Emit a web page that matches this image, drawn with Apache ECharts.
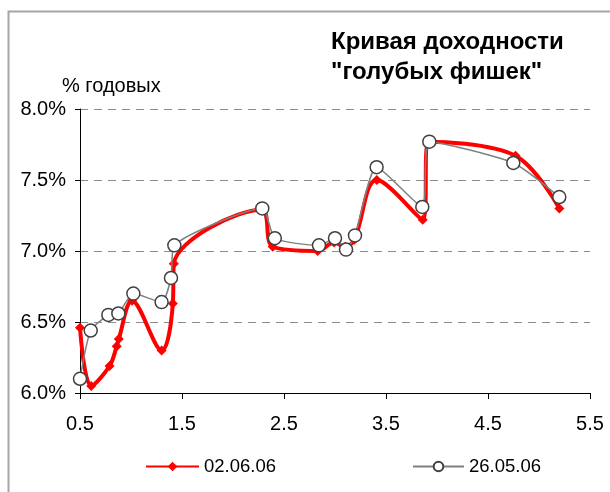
<!DOCTYPE html>
<html>
<head>
<meta charset="utf-8">
<script src="https://cdn.jsdelivr.net/npm/echarts@6/dist/echarts.min.js"></script>
<style>
html,body{margin:0;padding:0;background:#fff;}
#chart{width:610px;height:492px;}
</style>
</head>
<body>
<div id="chart"></div>
<script>
// ---- data ----
var titleText = 'Кривая доходности\n"голубых фишек"';
var yUnitLabel = '% годовых';
var seriesNames = ['02.06.06', '26.05.06'];
var xTickValues = [0.5, 1.5, 2.5, 3.5, 4.5, 5.5];

var redX = [0.5, 0.61, 0.79, 0.86, 0.88, 1.01, 1.30, 1.41, 1.42, 2.28, 2.39, 2.83, 2.99, 3.10, 3.19, 3.41, 3.86, 3.92, 4.77, 5.20];
var redY = [6.46, 6.05, 6.19, 6.33, 6.38, 6.65, 6.30, 6.63, 6.91, 7.29, 7.03, 7.00, 7.06, 7.03, 7.08, 7.50, 7.22, 7.77, 7.67, 7.30];

var grayX = [0.5, 0.605, 0.778, 0.876, 1.023, 1.30, 1.392, 1.425, 2.287, 2.41, 2.843, 3.0, 3.108, 3.196, 3.408, 3.856, 3.925, 4.748, 5.199];
var grayY = [6.10, 6.44, 6.55, 6.56, 6.70, 6.64, 6.81, 7.04, 7.30, 7.09, 7.04, 7.09, 7.01, 7.11, 7.59, 7.31, 7.77, 7.62, 7.38];

function pairs(xs, ys) { return xs.map(function (x, i) { return [x, ys[i]]; }); }

var FONT = '"Liberation Sans", Arial, sans-serif';
var chart = echarts.init(document.getElementById('chart'), null, {renderer: 'canvas'});
chart.setOption({
  backgroundColor: '#fff',
  animation: false,
  textStyle: {fontFamily: FONT, color: '#000'},
  title: {
    text: titleText,
    left: 326, top: 22,
    textStyle: {fontFamily: FONT, fontSize: 24, fontWeight: 'bold', color: '#000', lineHeight: 30}
  },
  graphic: [
    {type: 'rect', left: 6, top: 9, shape: {width: 640, height: 520}, style: {fill: 'none', stroke: '#a6a6a6', lineWidth: 2}, silent: true},
    {type: 'text', left: 62, top: 76, style: {text: yUnitLabel, font: '20px ' + FONT, fill: '#000'}}
  ],
  legend: [
    {data: [seriesNames[0]], left: 145, top: 457, padding: 0, itemWidth: 53, itemHeight: 12, itemGap: 5,
     textStyle: {fontSize: 18.5, fontFamily: FONT, color: '#000'}},
    {data: [seriesNames[1]], left: 412, top: 457, padding: 0, itemWidth: 51, itemHeight: 12, itemGap: 5,
     textStyle: {fontSize: 18.5, fontFamily: FONT, color: '#000'}}
  ],
  grid: {left: 80, right: 20, top: 109, bottom: 99, containLabel: false},
  xAxis: {
    type: 'value', min: 0.5, max: 5.5,
    axisLine: {show: true, onZero: false, lineStyle: {color: '#000', width: 1}},
    axisTick: {show: true, length: 6, customValues: xTickValues, lineStyle: {color: '#000'}},
    axisLabel: {customValues: xTickValues, fontSize: 20, color: '#000', fontFamily: FONT, margin: 21,
      formatter: function (v) { return v.toFixed(1); }},
    splitLine: {show: false}
  },
  yAxis: {
    type: 'value', min: 6, max: 8, interval: 0.5,
    axisLine: {show: true, lineStyle: {color: '#000', width: 1}},
    axisTick: {show: true, length: 5, lineStyle: {color: '#000'}},
    axisLabel: {fontSize: 20, color: '#000', fontFamily: FONT, margin: 14,
      formatter: function (v) { return v.toFixed(1) + '%'; }},
    splitLine: {show: true, lineStyle: {color: '#8c8c8c', type: [8, 6], width: 1}}
  },
  series: [
    {
      name: seriesNames[0], type: 'line', data: pairs(redX, redY),
      smooth: 0.35, symbol: 'diamond', symbolSize: 10,
      lineStyle: {color: '#ff0000', width: 4},
      itemStyle: {color: '#ff0000'},
      z: 2
    },
    {
      name: seriesNames[1], type: 'line', data: pairs(grayX, grayY),
      smooth: 0.2, symbol: 'circle', symbolSize: 13,
      lineStyle: {color: '#808080', width: 1.5},
      itemStyle: {color: '#ffffff', borderColor: '#404040', borderWidth: 1.5},
      z: 3
    }
  ]
});
</script>
</body>
</html>
